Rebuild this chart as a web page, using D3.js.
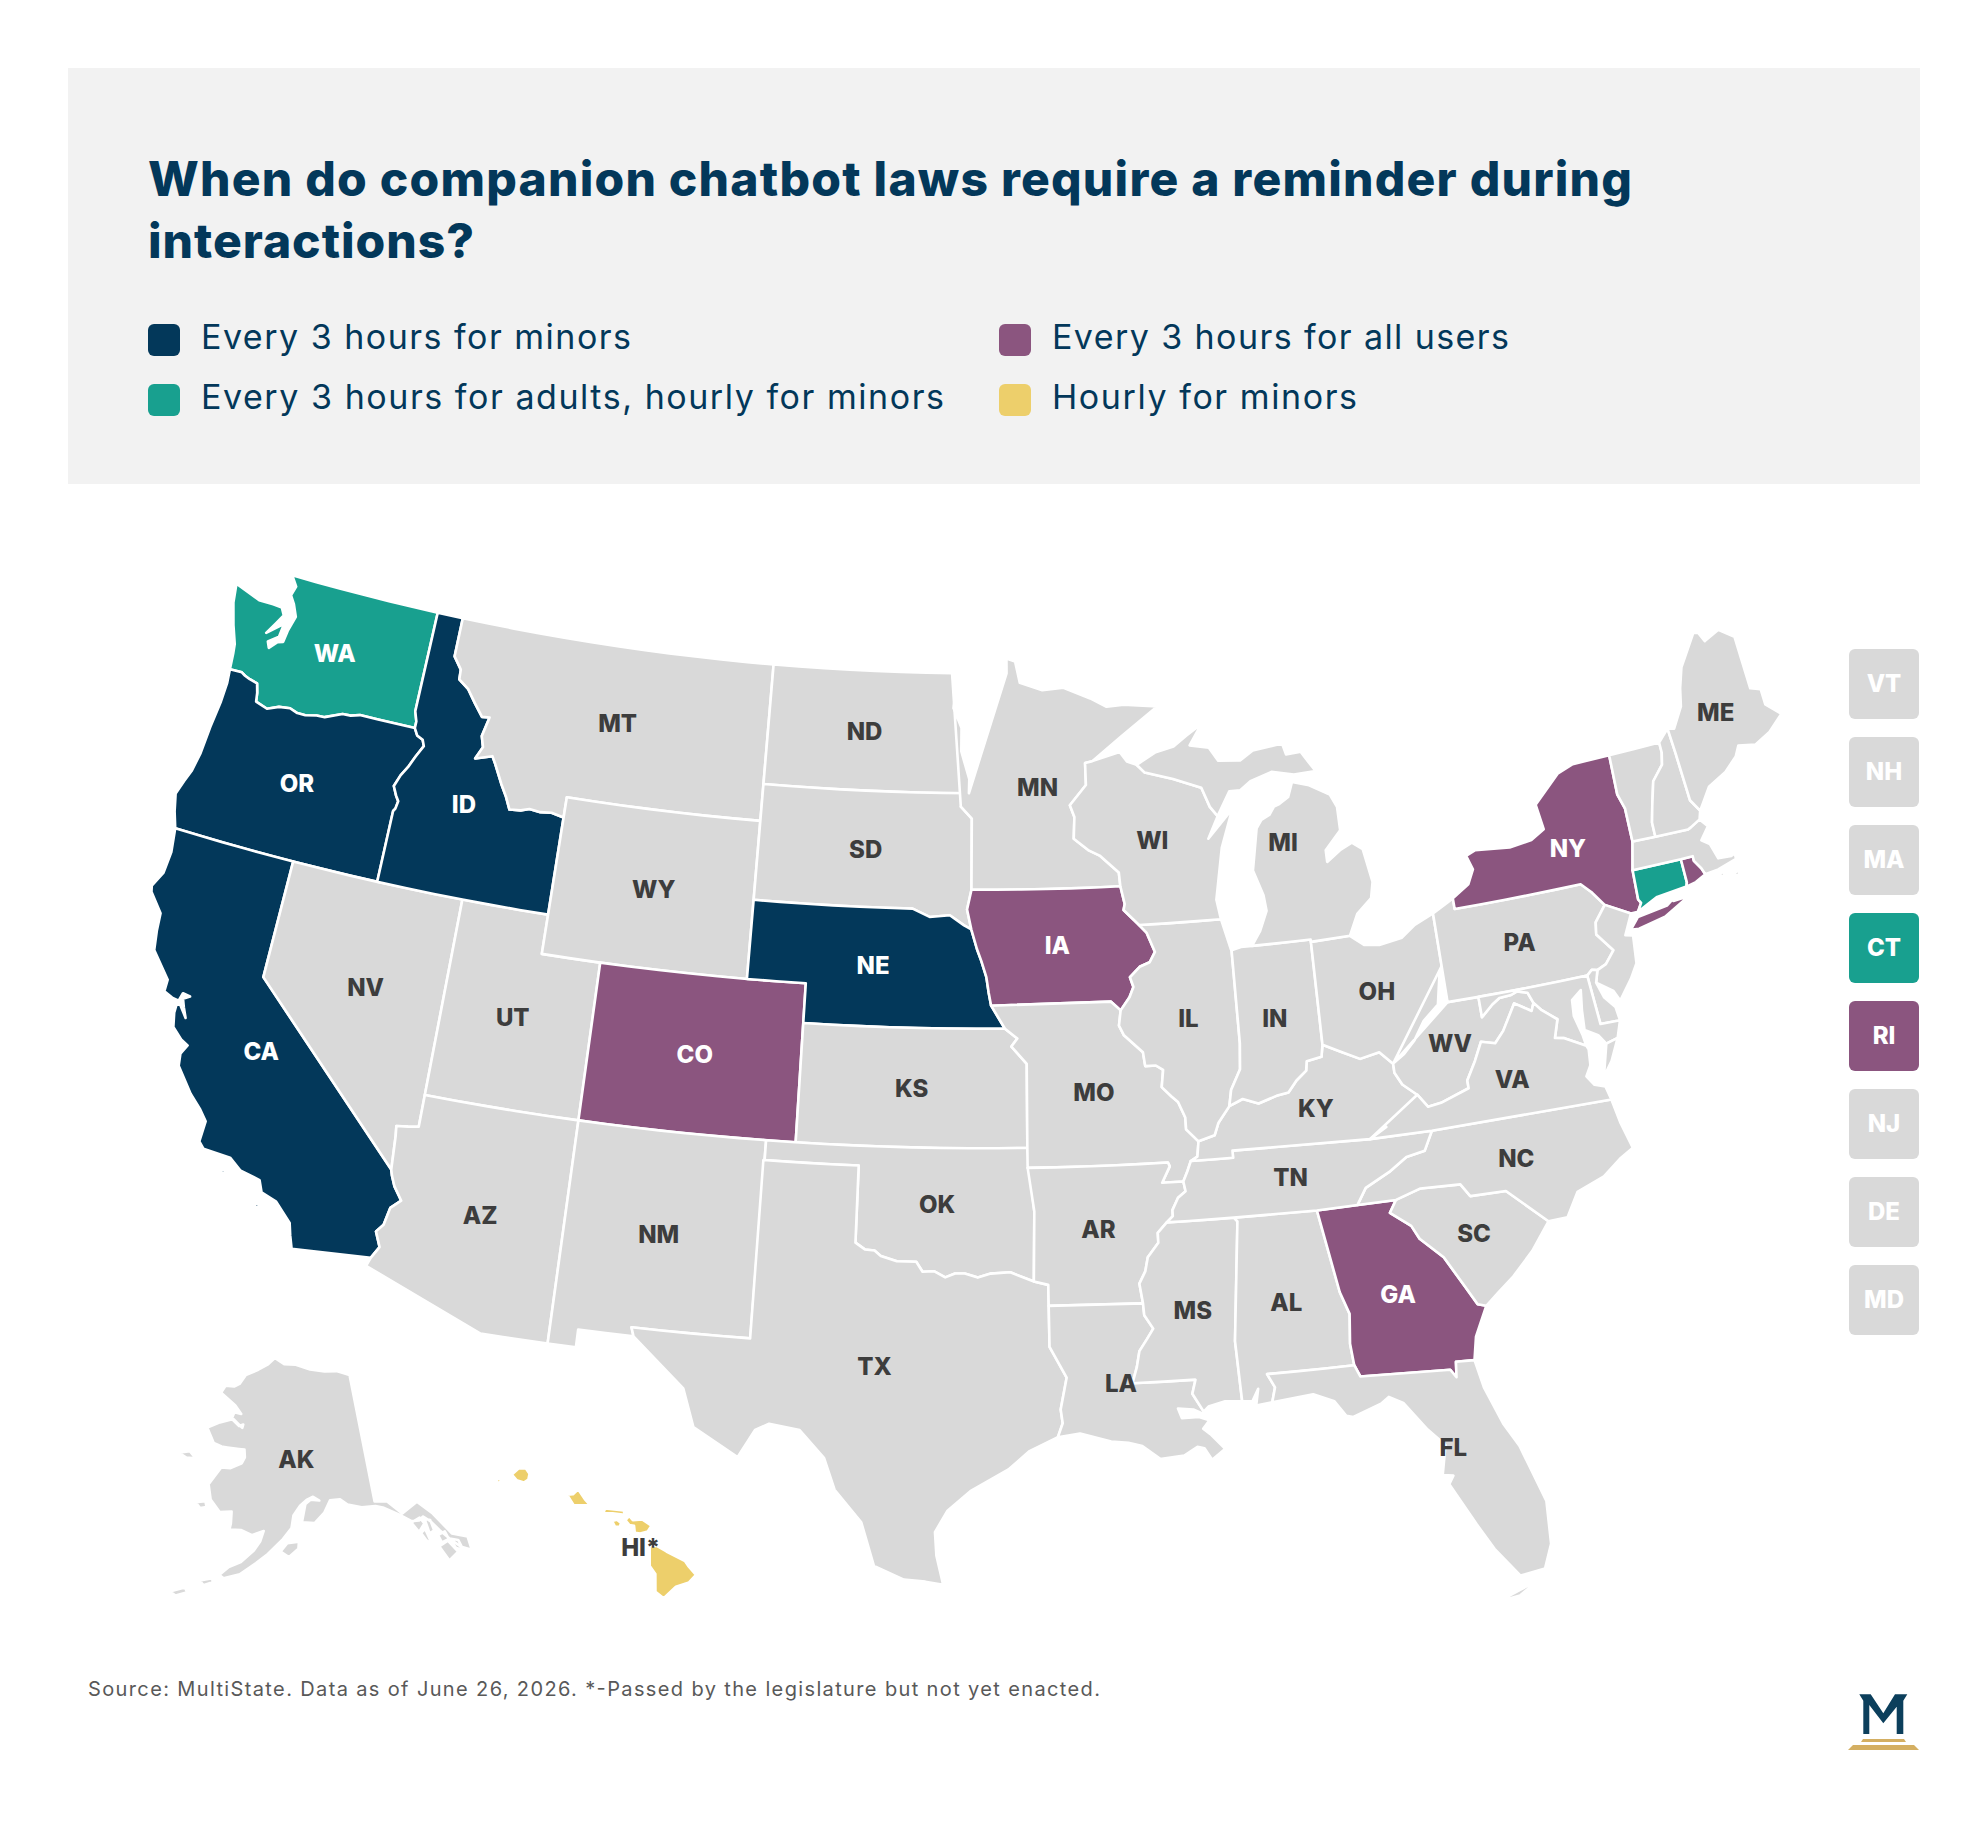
<!DOCTYPE html>
<html>
<head>
<meta charset="utf-8">
<title>Companion chatbot laws</title>
<script src="https://cdn.jsdelivr.net/npm/d3@7"></script>
<style>
  body { margin: 0; background: #fff; }
  svg { display: block; }
  text { font-family: Inter, "Liberation Sans", sans-serif; }
</style>
</head>
<body>
<svg id="chart" width="1988" height="1836"></svg>
<script>
var width = 1988, height = 1836;

// categories
var titleLines = ["When do companion chatbot laws require a reminder during", "interactions?"];
var sourceNote = "Source: MultiState. Data as of June 26, 2026. *-Passed by the legislature but not yet enacted.";
var legendLabels = ["Every 3 hours for minors", "Every 3 hours for adults, hourly for minors", "Every 3 hours for all users", "Hourly for minors"];
var legendColors = ["#03385a", "#18a08f", "#8b557f", "#edcf6b"];
var every3Minors = ["CA", "ID", "OR", "NE"];
var every3Adults = ["WA", "CT"];
var every3All = ["CO", "IA", "GA", "NY", "RI"];
var hourlyMinors = ["HI"];
var sideTiles = ["VT", "NH", "MA", "CT", "RI", "NJ", "DE", "MD"];

// shared borders, lon/lat
var columbia = [[-124,46.25],[-123.55,46.26],[-123.4,46.2],[-123.2,46.15],[-122.9,46.1],[-122.8,45.87],[-122.75,45.65],[-122.3,45.55],[-121.9,45.68],[-121.5,45.72],[-121.2,45.65],[-120.9,45.65],[-120.5,45.72],[-120.2,45.73],[-119.6,45.92],[-119.3,45.93],[-118.98,46],[-116.92,46]];
var snake = [[-116.92,46],[-116.78,45.83],[-116.55,45.75],[-116.46,45.6],[-116.67,45.3],[-116.85,45],[-117.05,44.75],[-117.2,44.45],[-117.05,44.23],[-116.93,44.1],[-116.97,43.9],[-117.03,43.83],[-117.03,42]];
var bitterroot = [[-116.05,48],[-115.72,47.7],[-115.7,47.45],[-115.3,47.25],[-114.95,46.93],[-114.6,46.63],[-114.32,46.65],[-114.47,46.15],[-114.35,45.88],[-114.55,45.56],[-113.95,45.7],[-113.8,45.52],[-113.45,45.05],[-113.2,44.75],[-113,44.45],[-112.6,44.48],[-112.3,44.55],[-111.9,44.52],[-111.5,44.55],[-111.05,44.48]];
var redNorth = [[-97.23,49],[-97.1,48.6],[-97.15,48.1],[-96.85,47.6],[-96.85,47],[-96.55,46.3],[-96.56,45.94]];
var missouriUpper = [[-98.5,43],[-97.9,42.8],[-97.2,42.85],[-96.7,42.6],[-96.45,42.5]];
var missouriMid = [[-96.45,42.5],[-96.25,42],[-96.1,41.7],[-95.93,41.3],[-95.85,40.9],[-95.77,40.58]];
var missouriLow = [[-95.77,40.58],[-95.31,40]];
var missouriKs = [[-95.31,40],[-94.9,39.75],[-95.1,39.55],[-94.6,39.11]];
var redSouth = [[-100,34.56],[-99.7,34.4],[-99.4,34.38],[-99.2,34.25],[-98.7,34.13],[-98.1,34.13],[-97.9,33.88],[-97.55,33.9],[-97.2,33.75],[-96.9,33.85],[-96.6,33.85],[-96.2,33.75],[-95.8,33.85],[-95.2,33.88],[-94.48,33.64]];
var missMnWi = [[-92.8,44.75],[-92.3,44.45],[-91.9,44.3],[-91.25,43.85],[-91.22,43.5]];
var missIaWi = [[-91.22,43.5],[-91.1,43.05],[-91.15,42.9],[-90.64,42.5]];
var missIaIl = [[-90.64,42.5],[-90.4,42.3],[-90.15,41.8],[-90.35,41.55],[-90.7,41.45],[-91.05,41.2],[-90.95,40.95],[-91.1,40.7],[-91.42,40.38]];
var missMoIl = [[-91.42,40.38],[-91.5,40],[-91.35,39.75],[-90.75,39.3],[-90.7,38.95],[-90.35,38.95],[-90.12,38.83],[-90.2,38.4],[-89.9,38.15],[-89.7,38],[-89.5,37.6],[-89.5,37.3],[-89.13,36.98]];
var missTnAr = [[-89.42,36.5],[-89.55,36.25],[-89.7,36],[-89.65,35.75],[-89.9,35.6],[-90.1,35.3],[-90.1,35.15],[-90.3,35]];
var missMsAr = [[-90.3,35],[-90.6,34.75],[-90.6,34.5],[-90.95,34.15],[-91.05,33.8],[-91.25,33.5],[-91.17,33]];
var missMsLa = [[-91.17,33],[-91.15,32.7],[-90.9,32.35],[-91.1,32.1],[-91.35,31.8],[-91.45,31.4],[-91.6,31]];
var ohioIl = [[-88.05,37.8],[-88.45,37.4],[-88.6,37.1],[-89.13,36.98]];
var ohioIn = [[-84.82,39.1],[-84.9,38.8],[-85.4,38.73],[-85.45,38.5],[-85.8,38.28],[-86.1,38],[-86.5,37.95],[-87.1,37.8],[-87.6,37.95],[-88.05,37.8]];
var wabash = [[-87.53,39.35],[-87.6,38.7],[-87.95,38.2],[-88.05,37.8]];
var ohioOh = [[-82.6,38.4],[-83,38.73],[-83.65,38.63],[-84.25,38.87],[-84.82,39.1]];
var ohioWv = [[-80.52,40.64],[-80.65,40.4],[-80.85,39.7],[-81.4,39.35],[-81.8,38.9],[-82.2,38.6],[-82.6,38.4]];
var kyWv = [[-82.6,38.4],[-82.6,38.17],[-82.4,37.85],[-81.97,37.54]];
var kyVa = [[-81.97,37.54],[-82.3,37.3],[-83.1,36.85],[-83.67,36.6]];
var vaWv = [[-81.97,37.54],[-81.68,37.2],[-81.25,37.25],[-80.3,37.5],[-80.3,37.7],[-79.95,38.15],[-79.65,38.6],[-79.2,38.5],[-78.87,38.77],[-78.35,39.4],[-77.83,39.13],[-77.72,39.32]];
var mdWv = [[-77.72,39.32],[-77.85,39.6],[-78.2,39.68],[-78.4,39.62],[-78.8,39.6],[-79.07,39.47],[-79.48,39.2],[-79.48,39.72]];
var potomac = [[-77.72,39.32],[-77.5,39.1],[-77.05,38.8],[-77.25,38.35],[-76.95,38.3],[-76.3,38]];
var tnNc = [[-84.32,35],[-84,35.4],[-83.2,35.72],[-82.6,36.03],[-82,36.12],[-81.68,36.59]];
var ncSc = [[-83.11,35],[-82.3,35.2],[-81.05,35.15],[-80.8,34.82],[-79.68,34.8],[-78.55,33.86]];
var savannah = [[-83.11,35],[-83.35,34.7],[-82.75,34.3],[-82.55,33.95],[-81.9,33.4],[-81.4,32.6],[-81.1,32.1],[-80.85,32.03]];
var chattahoochee = [[-85.18,32.87],[-84.96,32.3],[-85.05,31.55],[-85,31]];
var flGa = [[-84.86,30.7],[-82.2,30.57],[-82.05,30.36],[-82,30.75],[-81.45,30.72]];
var sabine = [[-94.04,31.99],[-93.55,31.2],[-93.75,30.4],[-93.7,30.05],[-93.85,29.7]];
var delaware = [[-74.7,41.36],[-75.13,40.98],[-75.2,40.68],[-74.75,40.2],[-75.1,39.9],[-75.42,39.8]];
var nyPaRiver = [[-75.35,42],[-75.05,41.75],[-74.7,41.36]];
var connRiver = [[-71.5,45.01],[-71.5,44.75],[-71.6,44.45],[-72.05,44.1],[-72.3,43.5],[-72.45,43.1],[-72.46,42.73]];
var nhMe = [[-71.08,45.3],[-71.03,44.65],[-70.97,43.4],[-70.72,43.08]];
var vtNy = [[-73.35,45.01],[-73.4,44],[-73.25,43.6],[-73.27,42.75]];
var ctNy = [[-73.5,42.05],[-73.55,41.3],[-73.48,41.2],[-73.65,41]];
var miWi = [[-90.4,46.55],[-90.12,46.34],[-89.1,46.13],[-88.7,46.02],[-88.1,45.85],[-87.85,45.35],[-87.6,45.1]];
var mnWi = [[-92.02,46.7],[-92.29,46.66],[-92.29,46.1],[-92.9,45.6],[-92.75,45.3],[-92.8,44.75]];
var colorado = [[-114.63,35],[-114.57,34.85],[-114.43,34.6],[-114.14,34.28],[-114.43,34.05],[-114.53,33.6],[-114.72,33.4],[-114.52,33.03],[-114.72,32.72]];

function back(a) { return a.slice().reverse(); }
function ring() { return [].concat.apply([], arguments); }

// state outlines: each entry is a list of rings
var stateRings = {
  WA: [ring([[-124.7,48.38],[-124.6,47.9],[-124.35,47.35],[-124.1,46.9],[-124.05,46.65]], columbia, [[-116.92,46.17],[-117.04,46.42],[-117.03,49],[-122.76,49],[-122.5,48.75],[-122.6,48.5],[-122.4,48.3],[-122.2,48],[-122.35,47.6],[-122.4,47.3],[-122.6,47.25],[-122.85,47.05],[-122.95,47.2],[-122.6,47.4],[-122.55,47.75],[-123.1,47.4],[-122.85,47.7],[-122.65,47.95],[-122.8,48.13],[-123.15,48.15],[-123.7,48.15]])],
  OR: [ring([[-124,46.25],[-123.95,45.9],[-123.97,45.4],[-124.07,44.7],[-124.13,44],[-124.25,43.5],[-124.4,43.2],[-124.55,42.84],[-124.4,42.4],[-124.21,42]], back(snake), back(columbia))],
  CA: [ring([[-124.21,42],[-120,42],[-120,39]], colorado, [[-117.12,32.53],[-117.25,32.85],[-117.35,33.15],[-117.9,33.6],[-118.4,33.74],[-118.55,34.03],[-119.2,34.15],[-119.6,34.4],[-120.47,34.45],[-120.65,34.6],[-120.62,35.13],[-120.9,35.4],[-121.3,35.7],[-121.9,36.3],[-121.95,36.6],[-121.8,36.85],[-122.05,36.95],[-122.4,37.2],[-122.5,37.55],[-122.5,37.78],[-122.38,37.78],[-122.2,37.6],[-122.1,37.5],[-122.25,37.75],[-122.35,37.95],[-122.15,38.05],[-122.4,38.08],[-122.47,37.87],[-122.7,37.9],[-123,38],[-123,38.3],[-123.7,38.92],[-123.8,39.4],[-123.85,39.85],[-124.35,40.3],[-124.4,40.45],[-124.15,40.85],[-124.1,41.4]]),
    [[-119.9,34.05],[-119.55,34.05],[-119.7,33.97]], [[-118.6,33.48],[-118.35,33.4],[-118.45,33.33]], [[-118.6,33.03],[-118.35,32.83],[-118.5,32.85]]],
  NV: [[[-120,42],[-114.04,42],[-114.04,36.19],[-114.37,36.14],[-114.74,36.1],[-114.7,35.85],[-114.63,35],[-120,39]]],
  UT: [[[-114.04,42],[-111.05,42],[-111.05,41],[-109.05,41],[-109.05,37],[-114.04,37]]],
  AZ: [ring([[-114.04,37],[-109.05,37],[-109.05,31.33],[-111.07,31.33],[-114.81,32.5]], back(colorado), [[-114.7,35.85],[-114.74,36.1],[-114.37,36.14],[-114.04,36.19]])],
  ID: [ring([[-117.03,49],[-116.05,49]], bitterroot, [[-111.05,42]], back(snake), [[-116.92,46.17],[-117.04,46.42]])],
  MT: [ring([[-116.05,49],[-104.05,49],[-104.05,45],[-111.05,45]], back(bitterroot))],
  WY: [[[-111.05,45],[-104.05,45],[-104.05,41],[-111.05,41]]],
  CO: [[[-109.05,41],[-102.05,41],[-102.05,37],[-109.05,37]]],
  NM: [[[-109.05,37],[-103,37],[-103.04,32],[-106.62,32],[-106.53,31.78],[-108.2,31.78],[-108.2,31.33],[-109.05,31.33]]],
  ND: [ring([[-104.05,49]], redNorth, [[-104.05,45.94]])],
  SD: [ring([[-104.05,45.94],[-96.56,45.94],[-96.85,45.6],[-96.45,45.3],[-96.45,43.5],[-96.6,43],[-96.45,42.5]], back(missouriUpper), [[-104.05,43]])],
  NE: [ring([[-104.05,43]], missouriUpper, missouriMid, missouriLow, [[-102.05,40],[-102.05,41],[-104.05,41]])],
  KS: [ring([[-102.05,40]], missouriKs, [[-94.62,37],[-102.05,37]])],
  OK: [ring([[-103,37],[-94.62,37],[-94.43,35.4]], back(redSouth), [[-100,36.5],[-103,36.5]])],
  TX: [ring([[-103.04,36.5],[-100,36.5]], redSouth, [[-94.04,33.55]], sabine, [[-94.7,29.35],[-95.3,28.9],[-96.4,28.35],[-97.05,27.85],[-97.4,27.3],[-97.35,26.7],[-97.15,25.96],[-97.65,26.03],[-98.25,26.07],[-99.1,26.4],[-99.5,27.5],[-100.3,28.3],[-100.65,29.1],[-101.4,29.77],[-102.3,29.88],[-102.7,29.7],[-103.15,28.98],[-104.5,29.65],[-104.9,30.6],[-106,31.4],[-106.53,31.78],[-106.62,32],[-103.04,32]])],
  MN: [ring(back(redNorth), [[-96.85,45.6],[-96.45,45.3],[-96.45,43.5],[-91.22,43.5]], back(missMnWi), back(mnWi), [[-90.9,47.3],[-89.5,48],[-90.75,48.1],[-91.4,48.07],[-92,48.3],[-93,48.6],[-93.8,48.55],[-94.65,48.75],[-94.82,49.3],[-95.15,49.38],[-95.15,49]])],
  IA: [ring([[-96.45,43.5]], missIaWi, missIaIl, [[-91.73,40.61]], back(missouriMid), [[-96.6,43]])],
  MO: [ring([[-95.77,40.58],[-91.73,40.61]], missMoIl, [[-89.2,36.6],[-89.42,36.5],[-89.55,36.25],[-89.7,36],[-90.37,36],[-90.1,36.4],[-90.15,36.5],[-94.62,36.5],[-94.62,37]], back(missouriKs))],
  AR: [ring([[-94.62,36.5],[-90.15,36.5],[-90.1,36.4],[-90.37,36]], missTnAr.slice(2), missMsAr, [[-94.04,33.02],[-94.04,33.55],[-94.48,33.64],[-94.43,35.4]])],
  LA: [ring([[-94.04,33.02]], missMsLa, [[-89.73,31],[-89.85,30.65],[-89.55,30.18],[-89.4,30.05],[-89.85,30.25],[-90.3,30.3],[-90.2,30.05],[-89.7,30.05],[-89.4,29.95],[-89.6,29.75],[-89.4,29.6],[-89,29.2],[-89.4,28.95],[-89.6,29.25],[-89.8,29.3],[-90.2,29.1],[-90.9,29.05],[-91.4,29.4],[-91.8,29.5],[-92.3,29.55],[-93.2,29.78]], back(sabine))],
  MS: [ring(missMsAr.slice(0,1), [[-88.2,35],[-88.1,34.9],[-88.47,31.9],[-88.4,30.37],[-88.9,30.4],[-89.4,30.3],[-89.55,30.18],[-89.85,30.65],[-89.73,31]], back(missMsLa), back(missMsAr))],
  AL: [ring([[-88.2,35],[-85.6,34.98]], chattahoochee, [[-87.6,31],[-87.4,30.65],[-87.52,30.28],[-88,30.23],[-87.9,30.65],[-88.1,30.35],[-88.4,30.37],[-88.47,31.9],[-88.1,34.9]])],
  GA: [ring([[-85.6,34.98]], savannah, [[-81.3,31.3]], back(flGa), back(chattahoochee))],
  FL: [ring([[-87.6,31]], chattahoochee.slice(3), flGa, [[-81.3,30],[-80.9,29],[-80.55,28.4],[-80.05,26.9],[-80.12,25.8],[-80.4,25.2],[-81.1,25.12],[-81.7,25.9],[-82.1,26.6],[-82.7,27.7],[-82.55,27.9],[-82.85,27.95],[-82.65,28.7],[-83.1,29.15],[-83.7,29.9],[-84.1,30.1],[-84.35,29.95],[-85.2,29.7],[-85.4,29.75],[-85.7,30.15],[-86.3,30.38],[-87.52,30.28],[-87.4,30.65]]),
    [[-81.8,24.55],[-81.2,24.75],[-80.6,24.95],[-81.2,24.62]]],
  SC: [ring(ncSc, [[-79.2,33.2],[-79.9,32.65],[-80.45,32.3]], back(savannah))],
  NC: [ring(tnNc, [[-75.87,36.55],[-75.75,35.95],[-75.53,35.25],[-76,35.05],[-76.6,34.7],[-77.5,34.45],[-77.95,33.87]], back(ncSc), [[-84.32,35]])],
  TN: [ring(missTnAr.slice(0,1), [[-88.07,36.5],[-88.07,36.68],[-83.67,36.6],[-81.68,36.59]], back(tnNc), [[-85.6,34.98],[-88.2,35]], back(missTnAr))],
  KY: [ring([[-89.42,36.5],[-88.07,36.5],[-88.07,36.68]], back(kyVa), back(kyWv), ohioOh, ohioIn, ohioIl, [[-89.2,36.6]])],
  IL: [ring(missIaIl.slice(0,1), [[-87.8,42.5],[-87.55,41.72],[-87.53,41.7]], wabash, ohioIl, back(missMoIl), back(missIaIl))],
  IN: [ring([[-87.53,41.7],[-87.2,41.76],[-86.82,41.76],[-84.8,41.76]], ohioIn, back(wabash))],
  OH: [ring([[-84.8,41.7],[-83.45,41.73],[-83,41.45],[-82.5,41.4],[-81.7,41.5],[-81.2,41.77],[-80.52,41.98]], ohioWv, ohioOh)],
  WV: [ring(back(ohioWv), kyWv, vaWv, mdWv, [[-80.52,39.72]])],
  PA: [ring([[-80.52,41.98],[-79.76,42.27],[-79.76,42]], nyPaRiver, delaware, [[-75.6,39.84],[-75.79,39.72],[-80.52,39.72]])],
  NY: [ring([[-79.76,42.27],[-79.76,42]], nyPaRiver, [[-73.9,41],[-73.65,41]], back(ctNy), [[-73.27,42.75]], back(vtNy), [[-74.7,45],[-75.3,44.85],[-76.3,44.2],[-76.2,43.55],[-76.7,43.35],[-77.5,43.27],[-78.7,43.37],[-79.05,43.27],[-78.9,42.9],[-79.15,42.55]]),
    [[-74.03,40.6],[-73.75,40.58],[-72.8,40.72],[-71.87,41.07],[-72.4,41.05],[-72.3,41.15],[-72.65,40.98],[-73.7,40.87]],
    [[-74.25,40.5],[-74.05,40.6],[-74.2,40.63]]],
  NJ: [ring(delaware.slice(0,1), [[-73.9,41],[-74.25,40.5],[-74,40.45],[-74.1,39.75],[-74.4,39.4],[-74.9,38.93],[-75.05,39.2],[-75.55,39.5],[-75.42,39.8]], back(delaware).slice(1))],
  DE: [[[-75.79,39.72],[-75.6,39.84],[-75.42,39.8],[-75.55,39.5],[-75.4,39.1],[-75.1,38.8],[-75.05,38.45],[-75.7,38.46]]],
  MD: [ring([[-79.48,39.72],[-75.79,39.72],[-75.7,38.46],[-75.05,38.45],[-75.25,38.03],[-75.65,37.95],[-75.85,38.2],[-76.25,38.4],[-76.2,38.9],[-76.1,39.4],[-76.45,39.2],[-76.5,38.8],[-76.35,38.3]], back(potomac), mdWv)],
  VA: [ring(kyVa.slice(2), [[-81.68,36.59],[-75.87,36.55],[-75.97,36.9],[-76.3,37],[-76.5,37.25],[-76.3,37.5],[-76.25,37.9]], back(potomac), back(vaWv), back(kyVa).slice(0,2)),
    [[-75.95,37.15],[-75.65,37.95],[-75.25,38.03],[-75.6,37.5]]],
  CT: [ring(ctNy, [[-72.9,41.25],[-71.85,41.32],[-71.8,41.42],[-71.8,42.02]])],
  RI: [[[-71.8,42.02],[-71.38,42.02],[-71.38,41.9],[-71.2,41.67],[-71.12,41.5],[-71.5,41.37],[-71.85,41.32],[-71.8,41.42]]],
  MA: [[[-73.5,42.05],[-73.27,42.75],[-72.46,42.73],[-71.3,42.7],[-71.2,42.73],[-70.82,42.87],[-70.6,42.65],[-70.95,42.35],[-70.7,42.2],[-70.55,41.8],[-70.1,41.77],[-70,41.8],[-70.08,42.05],[-70.2,42.08],[-69.95,41.95],[-69.97,41.67],[-70.65,41.53],[-71.12,41.5],[-71.2,41.67],[-71.38,41.9],[-71.38,42.02],[-71.8,42.02]],
    [[-70.8,41.35],[-70.5,41.45],[-70.5,41.35]], [[-70.25,41.3],[-70,41.38],[-70,41.25]]],
  VT: [ring(vtNy.slice(0,1), connRiver, [[-73.27,42.75]], vtNy.slice(1,3).reverse())],
  NH: [ring(connRiver.slice(0,1), nhMe, [[-70.82,42.87],[-71.2,42.73],[-71.3,42.7]], back(connRiver).slice(0,-1))],
  ME: [ring(nhMe.slice(0,1), [[-70.85,45.25],[-70.4,45.75],[-70.25,46.2],[-70,46.7],[-69.23,47.46],[-69.05,47.43],[-68.9,47.18],[-68.3,47.36],[-67.8,47.07],[-67.8,45.7],[-67.45,45.6],[-67.45,45.2],[-67,44.85],[-67.6,44.5],[-68.2,44.3],[-68.8,44.4],[-69,44.15],[-69.5,43.85],[-70.2,43.6],[-70.55,43.25]], back(nhMe))],
  WI: [ring(mnWi.slice(0,1), [[-91,46.9],[-90.75,46.65]], miWi, [[-88,44.55],[-87.05,45.25],[-87.55,44.3],[-87.7,43.75],[-87.9,43],[-87.8,42.5]], back(missIaWi), back(missMnWi), back(mnWi))],
  MI: [[[-86.82,41.76],[-86.5,42.1],[-86.2,42.6],[-86.25,43],[-86.53,43.65],[-86.45,43.95],[-86.25,44.7],[-86.05,44.9],[-85.75,45],[-85.55,45.2],[-85.35,45.25],[-85,45.4],[-84.8,45.77],[-84.2,45.63],[-83.5,45.33],[-83.3,45],[-83.3,44.4],[-83.9,43.95],[-83.9,43.65],[-83.4,43.9],[-82.95,44.05],[-82.6,43.85],[-82.42,43],[-82.55,42.6],[-83.1,42.25],[-83.45,41.73],[-84.8,41.7],[-84.8,41.76]],
    ring(miWi, [[-87.1,45.7],[-86.7,45.7],[-86.3,45.9],[-85.5,46.08],[-84.7,45.95],[-83.9,45.97],[-84.1,46.2],[-84.35,46.5],[-84.9,46.48],[-85,46.77],[-86.1,46.67],[-86.6,46.45],[-87.4,46.5],[-87.7,46.85],[-88.4,46.95],[-87.9,47.47],[-88.5,47.2],[-89,46.95],[-89.7,46.83]])],
  AK: [[[-141,69.65],[-143.5,70.1],[-146,70.2],[-149,70.45],[-152,70.85],[-154.5,70.9],[-156.6,71.35],[-158,70.85],[-160,70.4],[-162.5,69.9],[-163.5,69.2],[-164.5,68.95],[-166.2,68.9],[-166.8,68.35],[-165.5,68.05],[-163.7,67.6],[-162.4,67.05],[-163.7,67.1],[-164,66.6],[-162.5,66.15],[-161.8,66.3],[-161.9,66.05],[-163.7,66.6],[-166,66.2],[-168,65.65],[-166.4,64.65],[-165,64.5],[-163,64.5],[-161.1,64.5],[-160.9,63.95],[-161.3,63.5],[-163,63.05],[-164.5,63],[-166,61.65],[-165.3,60.6],[-163.7,59.8],[-162,59.95],[-161.9,59.1],[-162,58.65],[-160.4,58.7],[-158.8,58.4],[-157.2,58.75],[-157.6,58],[-158.4,57.3],[-160,56.4],[-161.5,55.95],[-162.6,55.3],[-162,55.1],[-160,55.5],[-158,56.4],[-156.5,57.1],[-154.5,58.2],[-153.3,59],[-153,59.9],[-152,60.6],[-151,61],[-150,61.2],[-149.1,60.9],[-150.4,61],[-151.2,60.7],[-151.8,59.4],[-150,59.3],[-148.5,60],[-147.5,60.85],[-146,60.85],[-145,60.4],[-143,60.05],[-141,59.95],[-140,59.75],[-138,59],[-136.5,58.3],[-135.5,58.2],[-134.8,58.4],[-134,57.9],[-133.2,57.1],[-132.3,56.3],[-131.3,55.5],[-130.1,55],[-130,56],[-131.8,56.6],[-133.4,58.4],[-135.05,59.55],[-137.5,59],[-139.2,60.1],[-141,60.3]],
    [[-154.8,57.3],[-153.9,57.9],[-152.3,58],[-152.4,57.5],[-153.7,56.9]],
    [[-167.4,60.2],[-166,60.4],[-165.7,60],[-166.6,59.85]],
    [[-171.7,63.4],[-170,63.7],[-168.8,63.3],[-170.3,63.2]],
    [[-136.6,58.2],[-135.3,58.4],[-134.9,57.9],[-135.9,57.4]],
    [[-135.7,57.3],[-135,57.5],[-134.7,56.3],[-135.3,56.7]],
    [[-134.7,58.2],[-134,58],[-133.9,57.2],[-134.6,57.1]],
    [[-133.6,56.8],[-132.6,56.9],[-132.4,56.3],[-133.4,56.2]],
    [[-133.9,56],[-132.6,56.2],[-131.8,55.2],[-133.2,54.8]],
    [[-132.3,56.3],[-131.3,56],[-131.1,55.2],[-131.9,55.5]],
    [[-164.9,54.7],[-163.4,55],[-163.3,54.7],[-164.4,54.4]],
    [[-168.3,53.5],[-166.6,54],[-166.2,53.7],[-167.5,53.3]],
    [[-165.9,54.2],[-165,54.2],[-165.2,54]]],
  HI: [[[-159.78,22.07],[-159.6,22.23],[-159.4,22.23],[-159.3,22.1],[-159.33,21.95],[-159.45,21.87],[-159.65,21.93]],
    [[-160.25,21.8],[-160.12,22.02],[-160.07,21.9]],
    [[-158.28,21.57],[-158.1,21.3],[-157.9,21.3],[-157.65,21.3],[-157.8,21.46],[-157.98,21.71],[-158.12,21.58]],
    [[-157.3,21.1],[-157.25,21.22],[-156.75,21.17],[-156.72,21.06],[-157.05,21.1]],
    [[-157.06,20.9],[-156.98,20.75],[-156.85,20.76],[-156.82,20.85],[-156.93,20.93]],
    [[-156.7,20.92],[-156.6,21.03],[-156.5,20.92],[-156.25,20.94],[-156,20.78],[-156.1,20.63],[-156.3,20.58],[-156.45,20.6],[-156.47,20.78],[-156.6,20.8]],
    [[-156.7,20.55],[-156.55,20.6],[-156.55,20.5]],
    [[-156.05,20.25],[-155.87,20.27],[-155.6,20.12],[-155.1,19.87],[-155,19.73],[-154.81,19.52],[-155,19.33],[-155.35,19.22],[-155.68,18.93],[-155.9,19.1],[-155.9,19.55],[-156.05,19.75]]]
};

// densify parallels so borders follow the curve of the projection
function followParallels(r) {
  var out = [];
  r.forEach(function(p, i) {
    var q = r[(i + 1) % r.length];
    out.push(p);
    if (p[1] === q[1] && Math.abs(p[0] - q[0]) > 1) {
      var steps = Math.ceil(Math.abs(p[0] - q[0]));
      d3.range(1, steps).forEach(function(s) {
        out.push([p[0] + (q[0] - p[0]) * s / steps, p[1]]);
      });
    }
  });
  return out;
}
function polygon(r) {
  var closed = followParallels(r);
  closed = closed.concat([closed[0]]);
  var poly = [closed];
  // d3 wants clockwise rings
  if (d3.geoArea({type: "Polygon", coordinates: poly}) > 2 * Math.PI) poly = [closed.slice().reverse()];
  return poly;
}
var states = Object.keys(stateRings).map(function(id) {
  return {type: "Feature", id: id, properties: {}, geometry: {type: "MultiPolygon", coordinates: stateRings[id].map(polygon)}};
});

var categoryOf = {};
every3Minors.forEach(function(s) { categoryOf[s] = 0; });
every3Adults.forEach(function(s) { categoryOf[s] = 1; });
every3All.forEach(function(s) { categoryOf[s] = 2; });
hourlyMinors.forEach(function(s) { categoryOf[s] = 3; });
function stateColor(id) { return categoryOf[id] === undefined ? "#d9d9d9" : legendColors[categoryOf[id]]; }
function labelColor(id) { return (categoryOf[id] === undefined || categoryOf[id] === 3) ? "#3d3d3d" : "#fff"; }

var svg = d3.select("#chart");

// header panel
svg.append("rect").attr("x", 68).attr("y", 68).attr("width", 1852).attr("height", 416).attr("fill", "#f2f2f2");
var titleWidths = [1484, 326];
svg.selectAll(".title").data(titleLines).join("text")
  .attr("class", "title")
  .attr("x", 148)
  .attr("y", function(d, i) { return 196 + i * 62; })
  .attr("font-size", 48)
  .attr("font-weight", 800)
  .attr("fill", "#03385a")
  .attr("textLength", function(d, i) { return titleWidths[i]; })
  .attr("lengthAdjust", "spacing")
  .text(function(d) { return d; });

// legend
var legendX = [148, 148, 999, 999], legendY = [324, 384, 324, 384], legendWidths = [430, 743, 457, 305];
var legend = svg.selectAll(".legend").data(legendLabels).join("g")
  .attr("class", "legend")
  .attr("transform", function(d, i) { return "translate(" + legendX[i] + "," + legendY[i] + ")"; });
legend.append("rect").attr("width", 32).attr("height", 32).attr("rx", 6)
  .attr("fill", function(d, i) { return legendColors[i]; });
legend.append("text").attr("x", 53).attr("y", 25)
  .attr("font-size", 34).attr("fill", "#03385a")
  .attr("textLength", function(d, i) { return legendWidths[i]; })
  .attr("lengthAdjust", "spacing")
  .text(function(d) { return d; });

// map
var projection = d3.geoAlbersUsa().scale(2260).translate([966, 1080.5]);
var path = d3.geoPath(projection);

svg.append("g").selectAll("path").data(states).join("path")
  .attr("d", path)
  .attr("fill", function(d) { return stateColor(d.id); })
  .attr("stroke", "#fff")
  .attr("stroke-width", 2.6)
  .attr("stroke-linejoin", "round");

// labels sit on the centroid, nudged where the centroid crowds the outline
var labelNudge = {};
svg.append("g").selectAll("text")
  .data(states.filter(function(d) { return sideTiles.indexOf(d.id) < 0; }))
  .join("text")
  .attr("x", function(d) { var n = labelNudge[d.id] || [0, 0]; return path.centroid(d)[0] + n[0]; })
  .attr("y", function(d) { var n = labelNudge[d.id] || [0, 0]; return path.centroid(d)[1] + n[1]; })
  .attr("dy", "0.36em")
  .attr("text-anchor", "middle")
  .attr("font-size", 24)
  .attr("font-weight", 800)
  .attr("fill", function(d) { return labelColor(d.id); })
  .text(function(d) { return d.id === "HI" ? "HI*" : d.id; });

// small states in the side column
var tileY = d3.scalePoint().domain(sideTiles).range([649, 1265]);
var tile = svg.selectAll(".tile").data(sideTiles).join("g")
  .attr("class", "tile")
  .attr("transform", function(d) { return "translate(1849," + tileY(d) + ")"; });
tile.append("rect").attr("width", 70).attr("height", 70).attr("rx", 6)
  .attr("fill", stateColor);
tile.append("text").attr("x", 35).attr("y", 34).attr("dy", "0.36em")
  .attr("text-anchor", "middle").attr("font-size", 24).attr("font-weight", 800)
  .attr("fill", "#fff").text(function(d) { return d; });

// source
svg.append("text").attr("x", 88).attr("y", 1696)
  .attr("font-size", 20).attr("fill", "#595959")
  .attr("textLength", 1012).attr("lengthAdjust", "spacing")
  .text(sourceNote);

// logo
var logo = svg.append("g").attr("transform", "translate(1848,1694)");
logo.append("path").attr("fill", "#0c3f5c")
  .attr("d", "M11.3 .3 L22.7 .3 L35.3 19.3 L47 .3 L59.3 .3 L55.3 6.7 L55.3 40 L48.7 40 L48.7 12.7 L35.3 29.3 L21.3 11 L21.3 40 L15.3 40 L15.3 6.7 Z");
logo.append("path").attr("fill", "#d4af62").attr("d", "M15 45 L56 45 L58 48 L13 48 Z");
logo.append("path").attr("fill", "#d4af62").attr("d", "M5 51 L66 51 L71 56 L0 56 Z");
</script>
</body>
</html>
